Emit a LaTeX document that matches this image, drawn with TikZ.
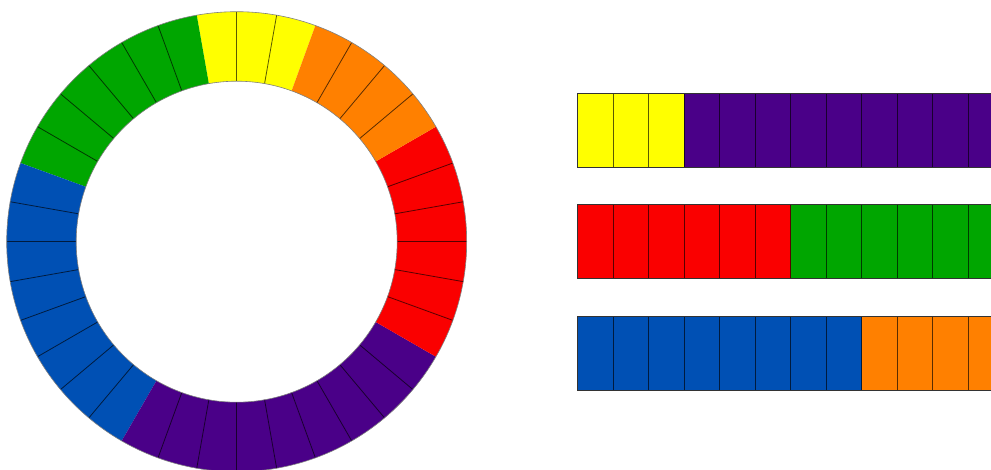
\documentclass[tikz,border=0pt]{standalone}
\definecolor{cY}{RGB}{255,255,0}
\definecolor{cG}{RGB}{0,166,0}
\definecolor{cB}{RGB}{0,80,180}
\definecolor{cP}{RGB}{74,0,136}
\definecolor{cR}{RGB}{250,0,0}
\definecolor{cO}{RGB}{255,128,0}
\tikzset{
  divider/.style={black,opacity=0.65,line width=0.8pt},
  rim/.style={gray,line width=0.6pt},
  barframe/.style={draw=black!80,line width=0.9pt}
}
\begin{document}
\begin{tikzpicture}[x=1pt,y=1pt]
\useasboundingbox (0,0) rectangle (991,469);
\clip (0,0) rectangle (991,469);
\begin{scope}[shift={(236.7,227.3)}]
  \foreach \a/\b/\c in {70/100/cY,100/160/cG,160/240/cB,240/330/cP,330/390/cR,30/70/cO}{
    \fill[\c] (\a:160.5pt) -- (\a:230pt) arc[start angle=\a,end angle=\b,radius=230pt]
      -- (\b:160.5pt) arc[start angle=\b,end angle=\a,radius=160.5pt] -- cycle;
  }
  \foreach \a in {40,50,60,80,90,110,120,130,140,150,170,180,190,200,210,220,230,250,260,270,280,290,300,310,320,340,350,360,370,380}{
    \draw[divider] (\a:160.5pt) -- (\a:230pt);
  }
  \draw[rim] (0,0) circle[radius=230pt];
  \draw[rim] (0,0) circle[radius=160.5pt];
\end{scope}
% bars
\def\bw{35.5}
% bar 1
\fill[cY] (577.5,301.7) rectangle ++(3*\bw,74);
\fill[cP] (577.5+3*\bw,301.7) rectangle ++(9*\bw,74);
% bar 2
\fill[cR] (577.5,190.7) rectangle ++(6*\bw,74);
\fill[cG] (577.5+6*\bw,190.7) rectangle ++(6*\bw,74);
% bar 3
\fill[cB] (577.5,79) rectangle ++(8*\bw,74);
\fill[cO] (577.5+8*\bw,79) rectangle ++(4*\bw,74);
\foreach \yb in {301.7,190.7,79}{
  \foreach \k in {1,...,11}{
    \draw[divider] (577.5+\k*\bw,\yb) -- ++(0,74);
  }
  \draw[barframe] (577.5,\yb) rectangle ++(12*\bw,74);
}
\end{tikzpicture}
\end{document}
